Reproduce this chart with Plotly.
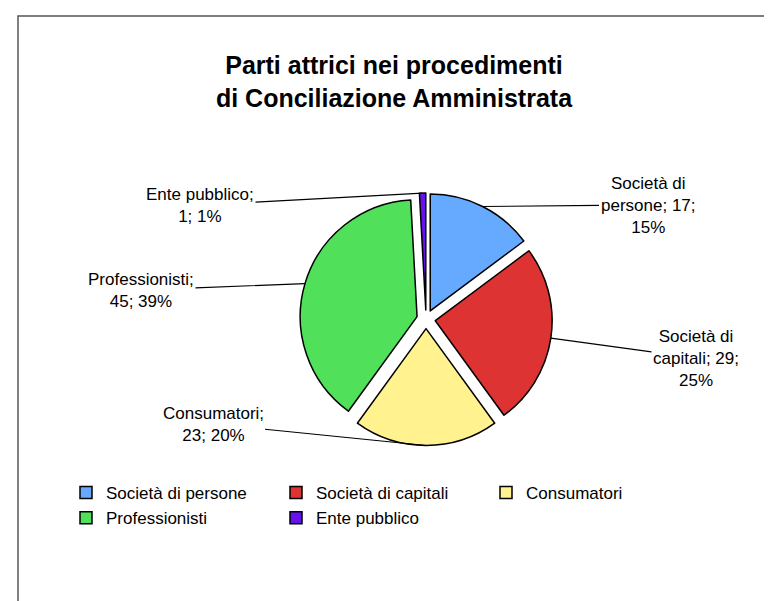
import math
import plotly.graph_objects as go

categories = ["Società di persone", "Società di capitali", "Consumatori", "Professionisti", "Ente pubblico"]
values = [17, 29, 23, 45, 1]
colors = ["#66AAFF", "#DD3333", "#FFF28F", "#50E05A", "#6611EE"]
# how each data label is broken into lines (text only)
label_templates = [
    "Società di<br>persone; {v};<br>{p}%",
    "Società di<br>capitali; {v};<br>{p}%",
    "{c};<br>{v}; {p}%",
    "{c};<br>{v}; {p}%",
    "{c};<br>{v}; {p}%",
]
title_text = "Parti attrici nei procedimenti<br>di Conciliazione Amministrata"

FONT = "Liberation Sans, Arial, sans-serif"
W, H = 772, 601

# layout of the pie (pixels)
PULL = 0.08
DOM_X = [0.378, 0.705]
DOM_Y = [0.272, 0.692]
# where the data labels sit (pixel centres, layout only)
label_pos = [(640, 197), (688, 350), (205, 416), (133, 282), (192, 197)]

fig = go.Figure(go.Pie(
    labels=categories,
    values=values,
    sort=False,
    direction="clockwise",
    rotation=0,
    pull=[PULL] * len(values),
    marker=dict(colors=colors, line=dict(color="black", width=1.5)),
    textinfo="none",
    domain=dict(x=DOM_X, y=DOM_Y),
    automargin=False,
    hoverinfo="label+value+percent",
))

# leader lines: tip on each slice's outer edge, derived from the data
total = sum(values)
dom_w = (DOM_X[1] - DOM_X[0]) * W
dom_h = (DOM_Y[1] - DOM_Y[0]) * H
r = min(dom_w, dom_h) / (2 + 2 * PULL)
cx = (DOM_X[0] + DOM_X[1]) / 2 * W
cy = (1 - (DOM_Y[0] + DOM_Y[1]) / 2) * H

annotations = []
cum = 0
for c, v, tpl, (lx, ly) in zip(categories, values, label_templates, label_pos):
    theta = 2 * math.pi * (cum + v / 2) / total
    cum += v
    R = r * (1 + PULL)
    tx = cx + R * math.sin(theta)
    ty = cy - R * math.cos(theta)
    text = tpl.format(c=c, v=v, p=round(100 * v / total))
    annotations.append(dict(
        xref="paper", yref="paper",
        x=tx / W, y=1 - ty / H,
        ax=lx - tx, ay=ly - ty,
        text=text, showarrow=True, arrowhead=0, arrowwidth=1.2,
        arrowcolor="black", standoff=0, startstandoff=0,
        font=dict(family=FONT, size=17, color="black"),
        align="center",
    ))

fig.update_layout(
    width=W,
    height=H,
    margin=dict(l=0, r=0, t=0, b=0),
    paper_bgcolor="white",
    plot_bgcolor="white",
    title=dict(
        text=title_text,
        x=0.5, xanchor="center",
        y=1 - 66 / H, yanchor="middle",
        font=dict(family=FONT, size=25, color="black", weight="bold"),
    ),
    legend=dict(
        orientation="h",
        x=58 / W, xanchor="left",
        y=1 - 467 / H, yanchor="top",
        entrywidth=165,
        entrywidthmode="pixels",
        itemwidth=30,
        font=dict(family=FONT, size=17, color="black"),
    ),
    annotations=annotations,
    shapes=[dict(
        type="rect", xref="paper", yref="paper",
        x0=10 / W, x1=1.0, y0=0.0, y1=1 - 8 / H,
        line=dict(color="#555555", width=1.5),
        fillcolor="rgba(0,0,0,0)",
    )],
)

fig.write_html("out.html")
